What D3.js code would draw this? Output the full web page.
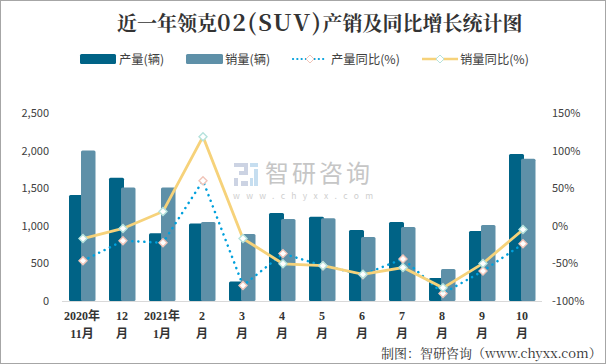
<!DOCTYPE html>
<html>
<head>
<meta charset="utf-8">
<script src="https://cdn.jsdelivr.net/npm/d3@7"></script>
<style>
  html, body { margin: 0; padding: 0; background: #fff; }
  svg { display: block; }
</style>
</head>
<body>
<script>
// values
const categories = ["2020年|11月", "12|月", "2021年|1月", "2|月", "3|月", "4|月", "5|月", "6|月", "7|月", "8|月", "9|月", "10|月"];
const production = [1410, 1640, 900, 1030, 260, 1170, 1120, 945, 1050, 305, 930, 1955];
const sales = [2000, 1510, 1510, 1050, 890, 1090, 1100, 850, 985, 425, 1010, 1890];
const productionYoy = [-46.5, -20, -22.5, 60, -79.5, -37, -53, -65, -44, -90, -60, -24];
const salesYoy = [-17, -3.5, 19, 118.5, -17, -50.5, -53, -64.5, -55.5, -82.5, -50, -5];
const leftTicks = [0, 500, 1000, 1500, 2000, 2500];
const rightTicks = [-100, -50, 0, 50, 100, 150];

const width = 606, height = 364;
const font = "'Noto Sans CJK SC', 'Noto Sans', sans-serif";
const serif = "'Liberation Serif', 'Noto Sans CJK SC', serif";

const svg = d3.select("body").append("svg")
    .attr("width", width)
    .attr("height", height);

svg.append("rect").attr("width", width).attr("height", height).attr("fill", "#fff");

// frame of the picture
svg.append("rect")
    .attr("x", 0.5).attr("y", 0.5)
    .attr("width", width - 1).attr("height", height - 1)
    .attr("fill", "none").attr("stroke", "#a6a6a6");

const x = d3.scaleBand().domain(categories).range([63, 543]);
const y = d3.scaleLinear().domain([0, 2500]).range([301, 113]);
const yRight = d3.scaleLinear().domain([-100, 150]).range([301, 113]);

// title, the latin part is bigger in the reference
const title = svg.append("text")
    .attr("x", 117).attr("y", 31)
    .attr("font-family", "'Noto Serif CJK SC', " + serif + ", 'Noto Sans CJK SC'")
    .attr("font-weight", 700)
    .attr("font-size", 20)
    .attr("fill", "#333");
title.append("tspan").text("近一年领克");
title.append("tspan").attr("font-size", 23).attr("letter-spacing", 1.6).text("02(SUV)");
title.append("tspan").text("产销及同比增长统计图");

// watermark
const mark = svg.append("g");
mark.append("text").attr("x", 265).attr("y", 181.5)
    .attr("font-family", font).attr("font-size", 24).attr("letter-spacing", 3)
    .attr("fill", "#c6c6c6").text("智研咨询");
mark.append("text").attr("x", 233).attr("y", 198.5)
    .attr("font-family", font).attr("font-size", 8.5)
    .attr("textLength", 140).attr("lengthAdjust", "spacing")
    .attr("fill", "#cfcfcf").text("www.chyxx.com");
mark.append("path")
    .attr("d", "M234 163h14v12h-9v-4h5v-4h-10zM234 178h4v8h-4zM241 181h7v5h-7z")
    .attr("fill", "#ccd3e3");
mark.append("path")
    .attr("d", "M250 163h8v4h-8zM254 169h4v17h-4zM250 178h3v8h-3z")
    .attr("fill", "#c6def0");

// bars, sales sit on top of production
const barWidth = 15;
svg.append("g").selectAll("rect").data(production).join("rect")
    .attr("x", (d, i) => x(categories[i]) + 6)
    .attr("y", d => y(d))
    .attr("width", barWidth)
    .attr("height", d => y(0) - y(d))
    .attr("rx", 1.5)
    .attr("fill", "#006386");
svg.append("g").selectAll("rect").data(sales).join("rect")
    .attr("x", (d, i) => x(categories[i]) + 18)
    .attr("y", d => y(d))
    .attr("width", barWidth - 0.5)
    .attr("height", d => y(0) - y(d))
    .attr("rx", 1.5)
    .attr("fill", "#5e90a8");

// axis line
svg.append("line")
    .attr("x1", 62).attr("x2", 542)
    .attr("y1", 301.5).attr("y2", 301.5)
    .attr("stroke", "#d9d9d9");

// left axis
const leftAxis = svg.append("g")
    .attr("transform", "translate(49,0)")
    .call(d3.axisLeft(y).tickValues(leftTicks).tickFormat(d3.format(",")).tickSize(0).tickPadding(0));
// right axis
const rightAxis = svg.append("g")
    .attr("transform", "translate(552,0)")
    .call(d3.axisRight(yRight).tickValues(rightTicks).tickFormat(d => d + "%").tickSize(0).tickPadding(0));
[leftAxis, rightAxis].forEach(a => {
    a.select(".domain").remove();
    a.selectAll("text")
        .attr("font-family", font)
        .attr("font-size", 11)
        .attr("fill", "#404040");
});

// category labels on two rows
const xLabels = svg.append("g").selectAll("text").data(categories).join("text")
    .attr("text-anchor", "middle")
    .attr("font-family", serif)
    .attr("font-weight", 700)
    .attr("font-size", 12)
    .attr("fill", "#333");
xLabels.each(function (d) {
    const cx = x(d) + x.bandwidth() / 2 - 1;
    d3.select(this).selectAll("tspan").data(d.split("|")).join("tspan")
        .attr("x", cx)
        .attr("y", (t, i) => 320 + i * 18)
        .text(t => t);
});

// lines
const lineYoy = d3.line()
    .x((d, i) => x(categories[i]) + x.bandwidth() / 2)
    .y(d => yRight(d));

svg.append("path").datum(productionYoy)
    .attr("d", lineYoy)
    .attr("fill", "none")
    .attr("stroke", "#00a0dc")
    .attr("stroke-width", 2.5)
    .attr("stroke-linecap", "round")
    .attr("stroke-dasharray", "0.1 5.9");
svg.append("path").datum(salesYoy)
    .attr("d", lineYoy)
    .attr("fill", "none")
    .attr("stroke", "#f6d27a")
    .attr("stroke-width", 2.8);

const diamond = (cx, cy, r) => `M${cx} ${cy - r}L${cx + r} ${cy}L${cx} ${cy + r}L${cx - r} ${cy}Z`;

svg.append("g").selectAll("path").data(productionYoy).join("path")
    .attr("d", (d, i) => diamond(x(categories[i]) + x.bandwidth() / 2, yRight(d), 4))
    .attr("fill", "#fff")
    .attr("stroke", "#f0c4b8")
    .attr("stroke-width", 1.4);
svg.append("g").selectAll("path").data(salesYoy).join("path")
    .attr("d", (d, i) => diamond(x(categories[i]) + x.bandwidth() / 2, yRight(d), 4))
    .attr("fill", "#fff")
    .attr("stroke", "#b5e2dc")
    .attr("stroke-width", 1.4);

// legend
const legendNames = ["产量(辆)", "销量(辆)", "产量同比(%)", "销量同比(%)"];
const legendX = [80, 186, 293, 422];
const legendText = [119, 225, 331, 460];
const legendY = 59;
const legend = svg.append("g");
legend.append("rect").attr("x", legendX[0]).attr("y", legendY - 5).attr("width", 36).attr("height", 10).attr("rx", 1.5).attr("fill", "#006386");
legend.append("rect").attr("x", legendX[1]).attr("y", legendY - 5).attr("width", 37).attr("height", 10).attr("rx", 1.5).attr("fill", "#5e90a8");
legend.append("line").attr("x1", legendX[2]).attr("x2", legendX[2] + 34).attr("y1", legendY).attr("y2", legendY)
    .attr("stroke", "#00a0dc").attr("stroke-width", 2.2).attr("stroke-linecap", "round").attr("stroke-dasharray", "0.1 4.2");
legend.append("line").attr("x1", legendX[3]).attr("x2", legendX[3] + 36).attr("y1", legendY).attr("y2", legendY)
    .attr("stroke", "#f6d27a").attr("stroke-width", 2.4);
legend.append("path").attr("d", diamond(legendX[2] + 17, legendY, 4)).attr("fill", "#fff").attr("stroke", "#f0c4b8");
legend.append("path").attr("d", diamond(legendX[3] + 18, legendY, 4)).attr("fill", "#fff").attr("stroke", "#b5e2dc");
legend.selectAll("text").data(legendNames).join("text")
    .attr("x", (d, i) => legendText[i])
    .attr("y", legendY + 4.5)
    .attr("font-family", font)
    .attr("font-size", 12.3)
    .attr("fill", "#404040")
    .text(d => d);

// source line
svg.append("text")
    .attr("x", 381).attr("y", 358)
    .attr("font-family", "'Noto Serif CJK SC', " + serif)
    .attr("font-size", 13)
    .attr("fill", "#333")
    .text("制图：智研咨询（www.chyxx.com）");
</script>
</body>
</html>
